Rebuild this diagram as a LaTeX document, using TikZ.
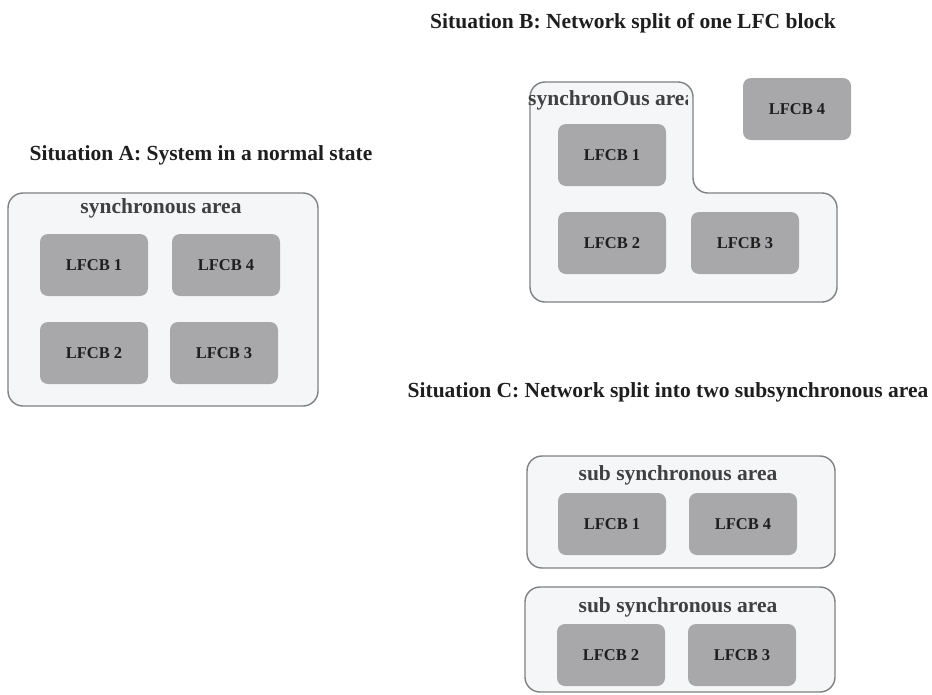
\documentclass[tikz,border=0pt]{standalone}
\usepackage{fontspec}
\setmainfont{Liberation Serif}
\definecolor{areafill}{RGB}{244,246,248}
\definecolor{arealine}{RGB}{128,128,128}
\definecolor{blockfill}{RGB}{168,168,171}
\definecolor{ink}{RGB}{30,30,30}

\begin{document}
\begin{tikzpicture}[x=1pt, y=-1pt,
  area/.style={draw=arealine, line width=1.4pt, fill=areafill, rounded corners=15pt},
  lfcb/.style={fill=blockfill, rounded corners=8pt, minimum width=108pt, minimum height=62pt, inner sep=0pt, text=ink, font=\fontsize{16.5}{18}\selectfont\bfseries},
  title/.style={inner sep=0pt, text=ink, font=\fontsize{21.5}{24}\selectfont\bfseries},
  arealabel/.style={inner sep=0pt, text=ink!85, font=\fontsize{21.5}{24}\selectfont\bfseries}]
\useasboundingbox (0,0) rectangle (932,694);

\node[title] (titleA) at (201,155) {Situation A: System in a normal state};
\draw[area] (8,193) rectangle (318,406);
\node[arealabel] (areaA) at (161,208) {synchronous area};
\foreach \n/\x/\y in {1/94/265, 4/226/265, 2/94/353, 3/224/353}
  \node[lfcb] (A\n) at (\x,\y) {LFCB \n};

\node[title] (titleB) at (633,23) {Situation B: Network split of one LFC block};
\draw[area] (530,82) -- (693,82) -- (693,193) -- (837,193) -- (837,302) -- (530,302) -- cycle;
\begin{scope}
 \clip (520,75) rectangle (687,193);
 \node[arealabel, anchor=west] (areaB) at (528,100) {synchronOus area};
\end{scope}
\foreach \n/\x/\y in {1/612/155, 2/612/243, 3/745/243, 4/797/109}
  \node[lfcb] (B\n) at (\x,\y) {LFCB \n};

\node[title] (titleC) at (668,392) {Situation C: Network split into two subsynchronous area};
\draw[area] (527,456) rectangle (835,568);
\node[arealabel] (areaCa) at (678,475) {sub synchronous area};
\draw[area] (525,587) rectangle (835,692);
\node[arealabel] (areaCb) at (678,607) {sub synchronous area};
\foreach \n/\x/\y in {1/612/524, 4/743/524, 2/611/655, 3/742/655}
  \node[lfcb] (C\n) at (\x,\y) {LFCB \n};
\end{tikzpicture}
\end{document}
